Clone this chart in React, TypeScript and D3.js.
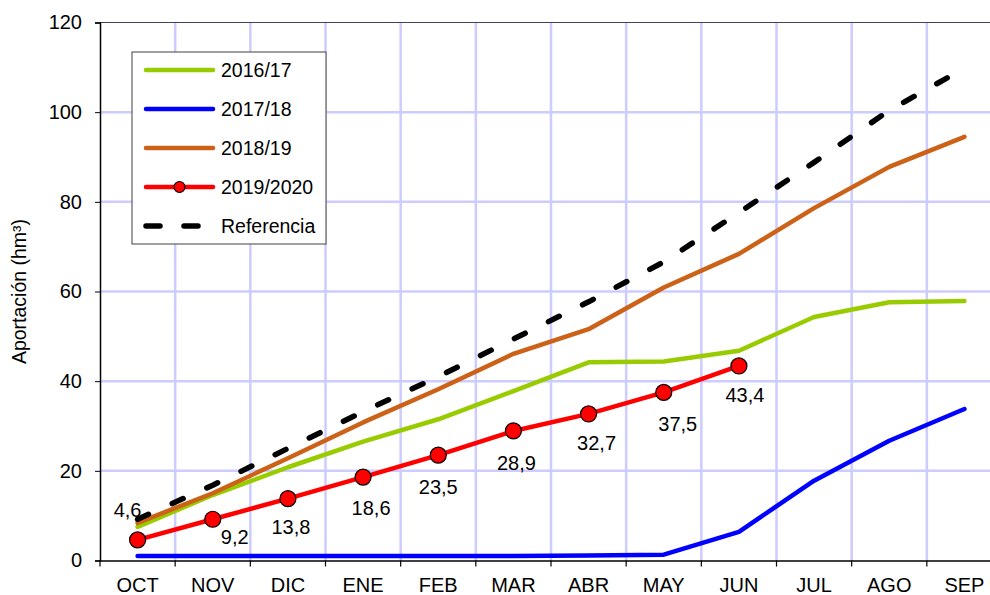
import { useEffect, useRef } from "react";
import * as d3 from "d3";

const months = ["OCT", "NOV", "DIC", "ENE", "FEB", "MAR", "ABR", "MAY", "JUN", "JUL", "AGO", "SEP"];
const s1617 = [7.5, 14.6, 20.8, 26.5, 31.5, 37.8, 44.2, 44.4, 46.8, 54.3, 57.6, 57.9];
const s1718 = [1.0, 1.0, 1.0, 1.0, 1.0, 1.0, 1.1, 1.3, 6.4, 17.8, 26.7, 33.8];
const s1819 = [8.4, 15.0, 22.8, 30.8, 38.2, 46.1, 51.6, 60.9, 68.4, 78.6, 87.8, 94.5];
const s1920 = [4.6, 9.2, 13.8, 18.6, 23.5, 28.9, 32.7, 37.5, 43.4];
const referencia = [9.2, 16.8, 25.0, 33.2, 41.0, 49.4, 57.7, 66.6, 77.6, 88.8, 100.4, 109.8];
const yTicks = [0, 20, 40, 60, 80, 100, 120];

const seriesList = [
  { name: "2016/17", values: s1617, color: "#99CC00" },
  { name: "2017/18", values: s1718, color: "#0000FF" },
  { name: "2018/19", values: s1819, color: "#CC6118" },
  { name: "2019/2020", values: s1920, color: "#FF0000", markers: true },
  { name: "Referencia", values: referencia, color: "#000000", dashed: true },
];

export default function App() {
  const svgRef = useRef<SVGSVGElement>(null);

  useEffect(() => {
    const width = 990;
    const height = 595;
    const left = 100;
    const right = 1002;
    const top = 22.5;
    const bottom = 560.5;
    const font = "'Liberation Sans', Arial, sans-serif";

    const svg = d3.select(svgRef.current);
    svg.selectAll("*").remove();
    svg.attr("width", width).attr("height", height);

    const x = d3.scaleBand().domain(months).range([left, right]);
    const y = d3.scaleLinear().domain([0, 120]).range([bottom, top]);
    const cx = (i: number) => (x(months[i]) as number) + x.bandwidth() / 2;

    // grid
    const grid = svg.append("g").attr("stroke", "#CCCCFF").attr("stroke-width", 2.5);
    months.slice(1).forEach((m) => {
      grid.append("line")
        .attr("x1", x(m) as number).attr("x2", x(m) as number)
        .attr("y1", top).attr("y2", bottom);
    });
    yTicks.slice(1, -1).forEach((t) => {
      grid.append("line")
        .attr("x1", left).attr("x2", right)
        .attr("y1", y(t)).attr("y2", y(t));
    });

    // frame top
    svg.append("line")
      .attr("x1", left).attr("x2", right)
      .attr("y1", top).attr("y2", top)
      .attr("stroke", "#404060").attr("stroke-width", 1.2);

    // axes
    const yAxis = svg.append("g")
      .attr("transform", `translate(${left},0)`)
      .call(d3.axisLeft(y).tickValues(yTicks).tickSize(5).tickPadding(13));
    yAxis.select(".domain").attr("stroke", "#000").attr("stroke-width", 1.5);
    yAxis.selectAll("text").attr("font-family", font).attr("font-size", 20).attr("fill", "#000");

    const xAxis = svg.append("g")
      .attr("transform", `translate(0,${bottom})`)
      .call(d3.axisBottom(x).tickSize(0).tickPadding(17));
    xAxis.select(".domain").attr("stroke", "#000").attr("stroke-width", 1.5);
    xAxis.selectAll("text").attr("font-family", font).attr("font-size", 20).attr("fill", "#000");
    months.forEach((m) => {
      xAxis.append("line")
        .attr("x1", x(m) as number).attr("x2", x(m) as number)
        .attr("y1", 0).attr("y2", 6)
        .attr("stroke", "#000").attr("stroke-width", 1.2);
    });

    svg.append("text")
      .attr("transform", `translate(26,${(top + bottom) / 2}) rotate(-90)`)
      .attr("text-anchor", "middle")
      .attr("font-family", font).attr("font-size", 19.5)
      .text("Aportación (hm³)");

    // lines
    const line = d3.line<number>().x((_, i) => cx(i)).y((d) => y(d));
    seriesList.forEach((s) => {
      svg.append("path")
        .attr("d", line(s.values))
        .attr("fill", "none")
        .attr("stroke", s.color)
        .attr("stroke-width", s.dashed ? 5.5 : 4.5)
        .attr("stroke-linecap", "round")
        .attr("stroke-linejoin", "round")
        .attr("stroke-dasharray", s.dashed ? "12 26" : null);
    });

    // markers + labels
    const labelOffsets = [
      [-10, -30], [22, 18], [3, 28], [8, 31], [0, 32], [3, 32], [8, 29], [14, 32], [6, 29],
    ];
    s1920.forEach((v, i) => {
      svg.append("circle")
        .attr("cx", cx(i)).attr("cy", y(v)).attr("r", 8)
        .attr("fill", "#FF0000").attr("stroke", "#000").attr("stroke-width", 1.2);
      const [dx, dy] = labelOffsets[i];
      svg.append("text")
        .attr("x", cx(i) + dx).attr("y", y(v) + dy)
        .attr("dy", "0.35em")
        .attr("text-anchor", "middle")
        .attr("font-family", font).attr("font-size", 20)
        .text(d3.format(".1f")(v).replace(".", ","));
    });

    // legend
    const lg = svg.append("g");
    lg.append("rect")
      .attr("x", 132).attr("y", 52).attr("width", 194).attr("height", 192)
      .attr("fill", "#fff").attr("stroke", "#404040").attr("stroke-width", 1);
    seriesList.forEach((s, i) => {
      const ly = 70 + i * 39;
      lg.append("line")
        .attr("x1", 146).attr("x2", 213).attr("y1", ly).attr("y2", ly)
        .attr("stroke", s.color).attr("stroke-width", s.dashed ? 5.5 : 4.5)
        .attr("stroke-linecap", "round")
        .attr("stroke-dasharray", s.dashed ? "14 24" : null);
      if (s.markers) {
        lg.append("circle").attr("cx", 179.5).attr("cy", ly).attr("r", 5.5)
          .attr("fill", "#FF0000").attr("stroke", "#000").attr("stroke-width", 1.2);
      }
      lg.append("text")
        .attr("x", 221).attr("y", ly).attr("dy", "0.35em")
        .attr("font-family", font).attr("font-size", 19.5)
        .text(s.name);
    });
  }, []);

  return (
    <div style={{ position: "absolute", left: 0, top: 0 }}>
      <svg ref={svgRef} style={{ display: "block" }}></svg>
    </div>
  );
}
